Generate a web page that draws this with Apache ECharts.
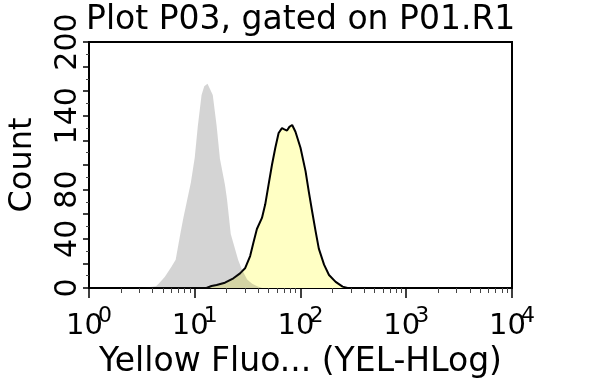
<!DOCTYPE html>
<html><head><meta charset="utf-8">
<script src="https://cdn.jsdelivr.net/npm/echarts@6/dist/echarts.min.js"></script>
<style>html,body{margin:0;padding:0;background:#fff}#c{width:600px;height:379px}</style>
</head><body><div id="c"></div>
<script>
const titleText = 'Plot P03, gated on P01.R1';
const xAxisName = 'Yellow Fluo... (YEL-HLog)';
const yAxisName = 'Count';
const yLabelsShown = [0, 40, 80, 140, 200];
const xMin = 1, xMax = 10000;
const yMin = 0, yMax = 200, yStep = 20;
const minorTickValues = [2,3,4,5,6,7,8,9,20,30,40,50,60,70,80,90,200,300,400,500,600,700,800,900,2000,3000,4000,5000,6000,7000,8000,9000];

// Unstained / control histogram (grey filled)
const grayX = [3.2, 3.8, 4.3, 4.6, 5.2, 6.0, 6.6, 7.3, 7.8, 8.4, 9.2, 10.0, 10.7, 11.6, 12.3, 13.2, 13.9, 14.8, 16.1, 17.3, 19.3, 20.2, 21.9, 25.7, 27.9, 31.3, 34.9, 38.9, 43.5];
const grayY = [0, 0.8, 1.5, 3.8, 9, 17, 23, 44, 57, 70, 86, 106, 132, 157, 164, 166, 162, 157, 132, 105, 84, 72, 44, 23, 15, 7, 3.5, 1.5, 0];

// Stained histogram (yellow filled, black outline)
const yellowX = [12.9, 14.4, 16.1, 19.3, 23.2, 26.8, 29.9, 33.4, 35.9, 38.7, 43.2, 46.4, 49.9, 53.7, 57.8, 62.1, 66.8, 70.4, 74.6, 78.5, 83.4, 89.6, 100, 111.6, 120, 129, 139, 149, 167, 186, 215, 250, 279];
const yellowY = [0, 1.6, 2.4, 4.3, 7.9, 11.9, 16, 26, 37, 48, 57, 68, 84, 100, 114, 126, 130, 129, 128, 131, 132.5, 127, 114, 95, 78, 62, 46, 32, 19, 10.6, 5, 1.1, 0];

const F = 'DejaVu Sans';
const zip = (a, b) => a.map((v, i) => [v, b[i]]);
const chart = echarts.init(document.getElementById('c'), null, {renderer: 'canvas'});
chart.setOption({
  animation: false,
  backgroundColor: '#fff',
  title: {text: titleText, left: 86, top: 4, padding: 0,
    textStyle: {fontFamily: F, fontSize: 33, fontWeight: 'normal', color: '#000'}},
  grid: {left: 89, right: 88, top: 42, bottom: 91, outerBoundsMode: 'none', containLabel: false,
    show: true, borderColor: '#000', borderWidth: 2, backgroundColor: 'transparent'},
  xAxis: [{
    type: 'log', logBase: 10, min: xMin, max: xMax, splitNumber: 4,
    position: 'bottom',
    name: xAxisName, nameLocation: 'middle', nameGap: 57,
    nameTextStyle: {fontFamily: F, fontSize: 33, color: '#000'},
    axisLine: {show: true, lineStyle: {color: '#000', width: 2}},
    axisTick: {show: true, length: 10, lineStyle: {color: '#000', width: 1.5}},
    splitLine: {show: false},
    axisLabel: {margin: 17, color: '#000',
      formatter: v => '{b|10}{s|' + Math.round(Math.log10(v)) + '}',
      rich: {b: {fontFamily: F, fontSize: 29, color: '#000', width: 32, align: 'left', lineHeight: 36, verticalAlign: 'bottom'},
             s: {fontFamily: F, fontSize: 22, color: '#000', lineHeight: 36, verticalAlign: 'top'}}}
  }, {
    type: 'value', min: 0, max: 4, position: 'bottom',
    axisLine: {show: false}, axisLabel: {show: false}, splitLine: {show: false},
    axisTick: {show: true, length: 5, customValues: minorTickValues.map(v => Math.log10(v)), lineStyle: {color: '#444', width: 1}}
  }],
  yAxis: {
    type: 'value', min: yMin, max: yMax, interval: yStep,
    name: yAxisName, nameLocation: 'middle', nameGap: 50,
    nameTextStyle: {fontFamily: F, fontSize: 32, color: '#000'},
    axisLine: {show: true, lineStyle: {color: '#000', width: 2}},
    axisTick: {show: true, length: 6, lineStyle: {color: '#000', width: 1.5}},
    minorTick: {show: true, splitNumber: 2, length: 3, lineStyle: {color: '#444', width: 1}},
    splitLine: {show: false},
    axisLabel: {rotate: 90, margin: 6, fontFamily: F, fontSize: 30, color: '#000',
      formatter: v => yLabelsShown.includes(v) ? String(v) : ''}
  },
  series: [{
    type: 'line', xAxisIndex: 0, data: zip(yellowX, yellowY), symbol: 'none', z: 2,
    lineStyle: {color: '#000', width: 2},
    areaStyle: {color: '#ffffc4', opacity: 1}
  }, {
    type: 'line', xAxisIndex: 0, data: zip(grayX, grayY), symbol: 'none', z: 3,
    lineStyle: {width: 0, opacity: 0},
    areaStyle: {color: 'rgba(40,40,40,0.2)', opacity: 1}
  }]
});
</script></body></html>
